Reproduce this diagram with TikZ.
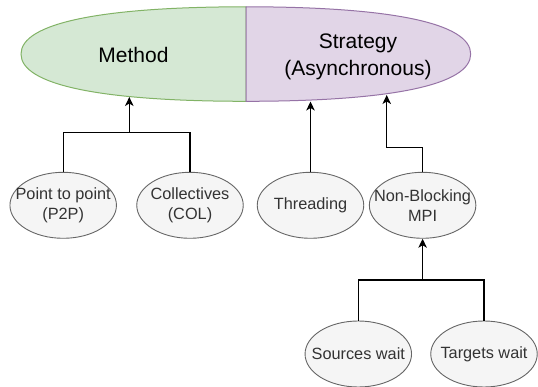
\documentclass[tikz,border=0pt]{standalone}
\usepackage{fontspec}
\setmainfont{Liberation Sans}
\usetikzlibrary{shapes.geometric,arrows.meta}
\definecolor{gfill}{HTML}{D5E8D4}
\definecolor{gline}{HTML}{82B366}
\definecolor{pfill}{HTML}{E1D5E7}
\definecolor{pline}{HTML}{9673A6}
\definecolor{nfill}{HTML}{F5F5F5}
\definecolor{nline}{HTML}{666666}
\definecolor{ntext}{HTML}{333333}
\tikzset{
  leaflabel/.style={align=center, text=ntext, inner sep=0pt,
    font=\fontsize{16.3}{20.3}\selectfont},
  leaf/.style={ellipse, draw=nline, fill=nfill, line width=0.9pt,
    minimum width=106.5pt, minimum height=66pt, inner sep=0pt,
    label={[leaflabel]center:{#1}}},
  bigtext/.style={align=center, text=black, inner sep=0pt,
    font=\fontsize{21}{27.4}\selectfont},
  conn/.style={draw=black, line width=1.2pt},
  arr/.style={conn, -{Stealth[length=9pt,width=8.5pt,inset=2.5pt]}}
}
\begin{document}
\begin{tikzpicture}[x=1pt,y=-1pt]
\useasboundingbox (0,0) rectangle (538,387);
% top split ellipse (k = 0.65)
\filldraw[fill=gfill, draw=gline, line width=1pt]
  (246,6.8) .. controls (99.75,6.8) and (21,23.35) .. (21,54.05)
  .. controls (21,84.75) and (99.75,101.3) .. (246,101.3) -- cycle;
\filldraw[fill=pfill, draw=pline, line width=1pt]
  (246,6.8) .. controls (392.05,6.8) and (470.7,23.35) .. (470.7,54.05)
  .. controls (470.7,84.75) and (392.05,101.3) .. (246,101.3) -- cycle;
\node[bigtext] (method) at (133.5,55) {Method};
\node[bigtext] (strategy) at (358,56.7) {Strategy\\(Asynchronous)};
% leaves
\node[leaf={Point to point\\(P2P)}] (p2p) at (63.2,205.3) {};
\node[leaf={Collectives\\(COL)}] (col) at (190,205.3) {};
\node[leaf={Threading}] (thr) at (310.5,205.3) {};
\node[leaf={Non-Blocking\\MPI}] (nb) at (422.6,205.3) {};
\node[leaf={Sources wait}] (src) at (358.3,354) {};
\node[leaf={Targets wait}] (tgt) at (484,354) {};
% connectors
\coordinate (mj) at (129.3,132.6);
\coordinate (mtip) at (129.3,97);
\coordinate (ttip) at (310.5,101.5);
\coordinate (nbtip) at (386.7,95);
\coordinate (bj) at (422.6,280);
\draw[conn] (p2p.north) |- (mj) -| (col.north);
\draw[arr] (mj) -- (mtip);
\draw[arr] (thr.north) -- (ttip);
\draw[arr] (nb.north) -- ++(0,-24) -| (nbtip);
\draw[conn] (src.north) |- (bj) -| (tgt.north);
\draw[arr] (bj) -- (nb.south);
\end{tikzpicture}
\end{document}
